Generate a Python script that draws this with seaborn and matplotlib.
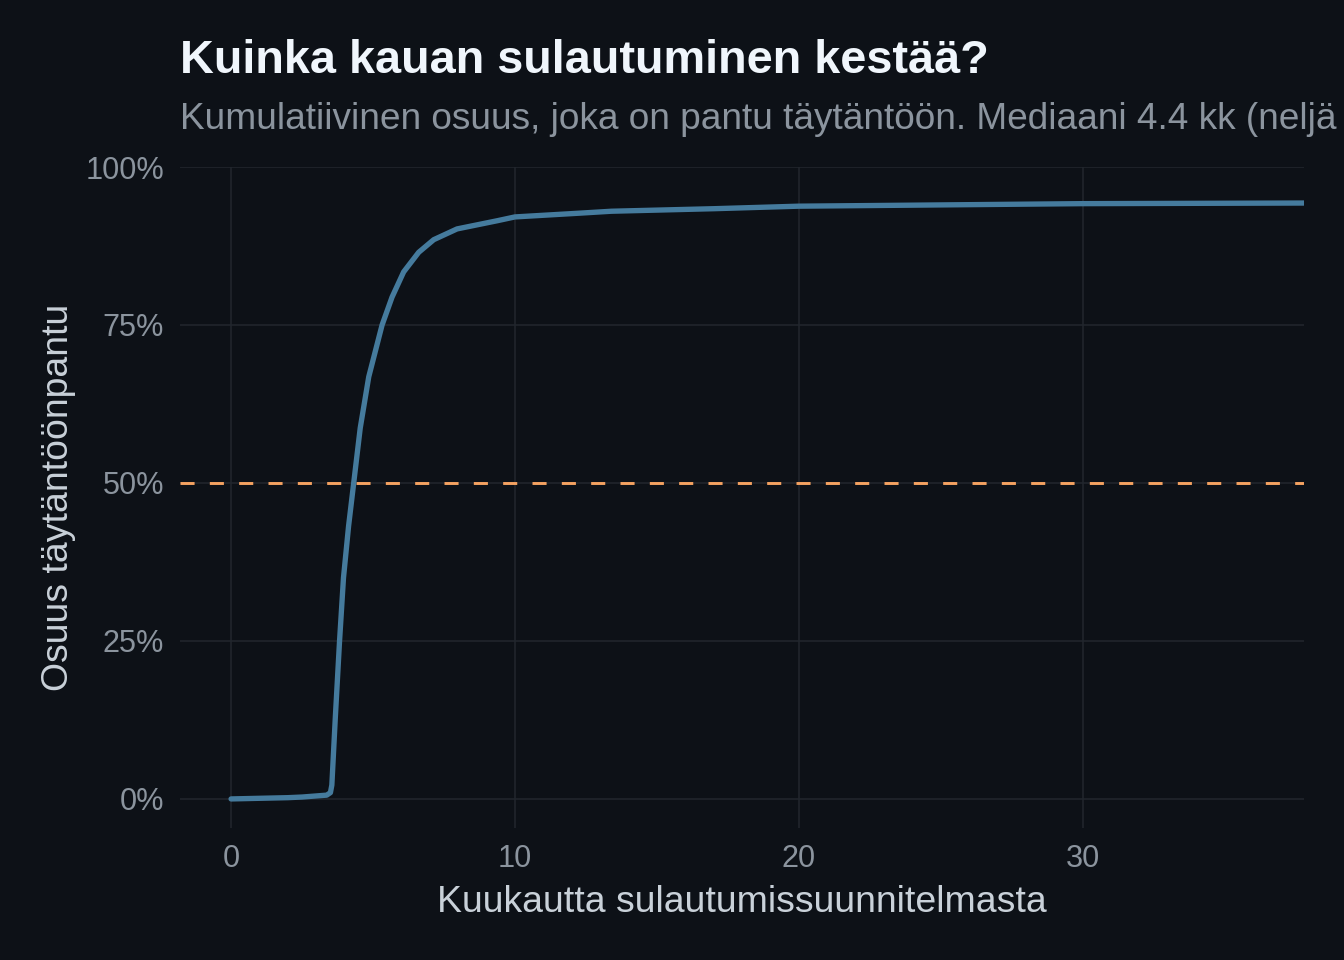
import seaborn as sns
import matplotlib.pyplot as plt
import pandas as pd
from matplotlib.ticker import PercentFormatter

# Kuukaudet sulautumissuunnitelmasta ja kumulatiivinen osuus (%)
months = [0, 1, 2, 2.5, 3.37, 3.5, 3.55, 3.67, 3.82, 3.96, 4.14, 4.32, 4.55,
          4.85, 5.32, 5.67, 6.08, 6.61, 7.14, 7.96, 9.38, 10, 12.3, 13.4,
          17, 20, 30, 38]
share = [0, 0.1, 0.2, 0.3, 0.6, 1.0, 2.2, 12.7, 24.9, 35, 43.2, 50, 58.7,
         66.8, 75, 79.4, 83.4, 86.5, 88.5, 90.2, 91.5, 92.1, 92.7, 93.0,
         93.4, 93.8, 94.2, 94.3]
median_line = 50
x_ticks = [0, 10, 20, 30]
y_ticks = [0, 25, 50, 75, 100]

title = "Kuinka kauan sulautuminen kestää?"
subtitle = "Kumulatiivinen osuus, joka on pantu täytäntöön. Mediaani 4.4 kk (neljä kuukautta)."

df = pd.DataFrame({"Kuukautta": months, "Osuus": share})

bg = "#0d1117"
sns.set_theme(style="darkgrid", rc={
    "figure.facecolor": bg, "axes.facecolor": bg, "savefig.facecolor": bg,
    "grid.color": "#21262d", "grid.linewidth": 0.6,
    "axes.edgecolor": bg, "xtick.color": "#8b949e", "ytick.color": "#8b949e",
    "axes.labelcolor": "#c9d1d9",
})
plt.rcParams["font.family"] = ["Liberation Sans", "DejaVu Sans"]

fig = plt.figure(figsize=(7, 5), dpi=192)
ax = fig.add_axes([180 / 1344, 1 - 828 / 960, (1304 - 180) / 1344, (828 - 167) / 960])

ax.axhline(median_line, color="#f4a261", lw=1.1, ls=(0, (4.8, 5.2)), zorder=2)
sns.lineplot(data=df, x="Kuukautta", y="Osuus", color="#457b9d", lw=2.0,
             estimator=None, ax=ax, zorder=3)

ax.set_xlim(-1.8, 37.8)
ax.set_ylim(-4.6, 100)
ax.set_xticks(x_ticks)
ax.set_yticks(y_ticks)
ax.yaxis.set_major_formatter(PercentFormatter(xmax=100, decimals=0))
ax.tick_params(axis="both", labelsize=11.5, length=0, pad=6)
for s in ax.spines.values():
    s.set_visible(False)

ax.set_xlabel("Kuukautta sulautumissuunnitelmasta", fontsize=14, labelpad=4)
ax.set_ylabel("Osuus täytäntöönpantu", fontsize=14, labelpad=3.5)

fig.text(180 / 1344, 1 - 73 / 960, title, color="#f0f6fc", fontsize=17.6,
         fontweight="bold", va="baseline", ha="left")
fig.text(180 / 1344, 1 - 129 / 960, subtitle, color="#8b949e", fontsize=13.9,
         va="baseline", ha="left")

fig.savefig("out.png", dpi=192)
